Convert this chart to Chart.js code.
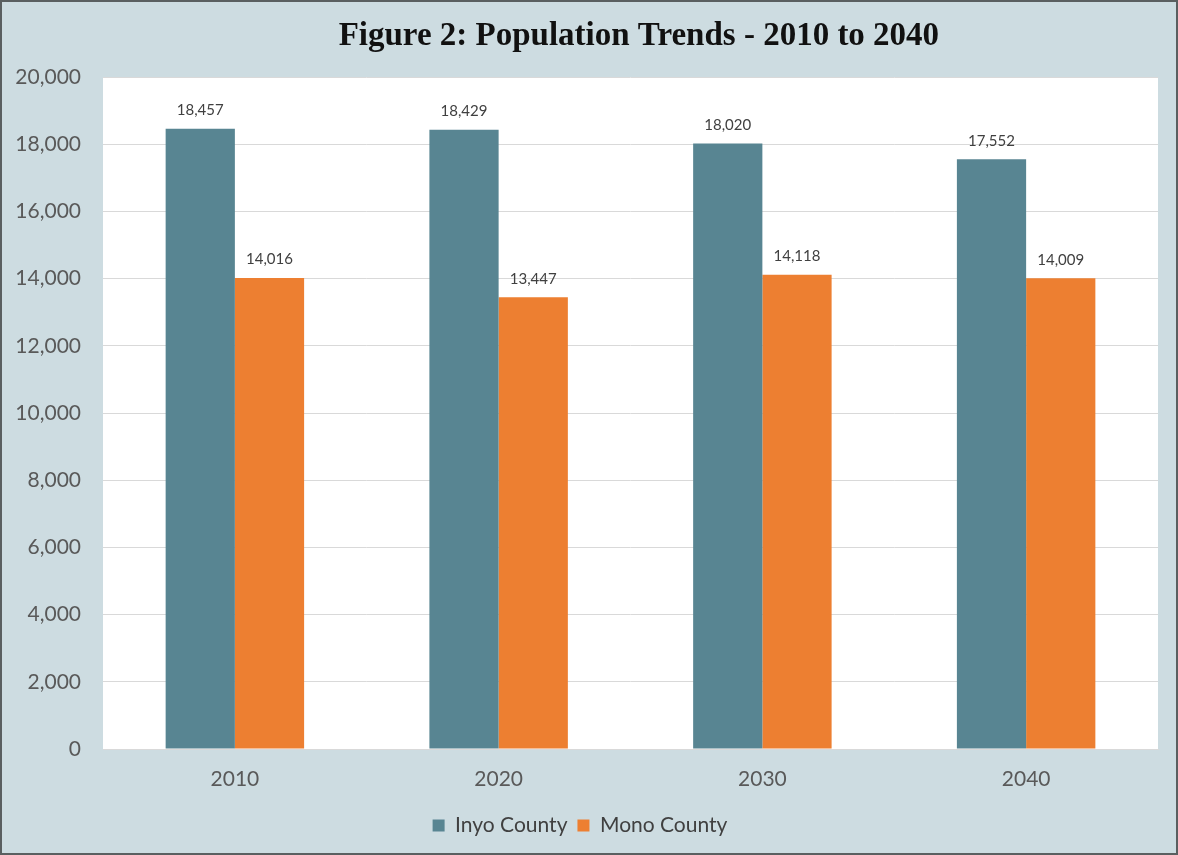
<!DOCTYPE html>
<html>
<head>
<meta charset="utf-8">
<script src="https://cdn.jsdelivr.net/npm/chart.js@4/dist/chart.umd.min.js"></script>
<style>
  html, body { margin: 0; padding: 0; }
  #wrap { width: 1174px; height: 851px; border: 2px solid #5a5f60; background: #cddce1; position: relative; }
  canvas { display: block; }
</style>
</head>
<body>
<div id="wrap"><canvas id="c" width="1174" height="851"></canvas></div>
<script>
const categories = ['2010', '2020', '2030', '2040'];
const inyoCounty = [18457, 18429, 18020, 17552];
const monoCounty = [14016, 13447, 14118, 14009];
const seriesNames = ['Inyo County', 'Mono County'];
const titleText = 'Figure 2: Population Trends - 2010 to 2040';

const plotBg = {
  id: 'plotBg',
  beforeDraw(chart) {
    const {ctx, chartArea: a} = chart;
    ctx.save();
    ctx.fillStyle = '#ffffff';
    ctx.fillRect(a.left, a.top, a.right - a.left, a.bottom - a.top);
    ctx.restore();
  }
};

// Title drawn slightly right of centre, as in the original figure
const offsetTitle = {
  id: 'offsetTitle',
  afterDraw(chart) {
    const ctx = chart.ctx;
    ctx.save();
    ctx.font = 'bold 33px "Liberation Serif", serif';
    ctx.fillStyle = '#111111';
    ctx.textAlign = 'center';
    ctx.textBaseline = 'middle';
    ctx.fillText(titleText, chart.width * 0.5425, 34);
    ctx.restore();
  }
};

const valueLabels = {
  id: 'valueLabels',
  afterDatasetsDraw(chart) {
    const ctx = chart.ctx;
    ctx.save();
    ctx.font = '15px Lato';
    ctx.fillStyle = '#404040';
    ctx.textAlign = 'center';
    ctx.textBaseline = 'bottom';
    chart.data.datasets.forEach((ds, di) => {
      const meta = chart.getDatasetMeta(di);
      meta.data.forEach((bar, i) => {
        ctx.fillText(ds.data[i].toLocaleString('en-US'), bar.x, bar.y - 11);
      });
    });
    ctx.restore();
  }
};

new Chart(document.getElementById('c'), {
  type: 'bar',
  data: {
    labels: categories,
    datasets: [
      { label: seriesNames[0], data: inyoCounty, backgroundColor: '#588592', borderWidth: 0 },
      { label: seriesNames[1], data: monoCounty, backgroundColor: '#ed7f31', borderWidth: 0 }
    ]
  },
  options: {
    responsive: false,
    animation: false,
    layout: { padding: { left: 0, right: 18, top: 75, bottom: 7 } },
    datasets: { bar: { barPercentage: 1.0, categoryPercentage: 0.525 } },
    plugins: {
      title: { display: false },
      legend: {
        position: 'bottom',
        labels: {
          color: '#404040',
          font: { family: 'Lato', size: 21 },
          boxWidth: 12,
          boxHeight: 12,
          padding: 10
        }
      },
      tooltip: { enabled: false }
    },
    scales: {
      x: {
        grid: { display: false, drawTicks: false, tickLength: 0 },
        border: { display: true, color: '#d9d9d9', width: 1 },
        ticks: { color: '#595959', font: { family: 'Lato', size: 21 }, padding: 18 },
        afterFit(scale) { scale.height = 56; }
      },
      y: {
        min: 0,
        max: 20000,
        grid: { color: '#d9d9d9', lineWidth: 1, drawTicks: false, tickLength: 0 },
        border: { display: false },
        ticks: {
          stepSize: 2000,
          color: '#595959',
          font: { family: 'Lato', size: 21 },
          padding: 22,
          callback: (v) => v.toLocaleString('en-US')
        },
        afterFit(scale) { scale.width = 101; }
      }
    }
  },
  plugins: [plotBg, valueLabels, offsetTitle]
});
</script>
</body>
</html>
